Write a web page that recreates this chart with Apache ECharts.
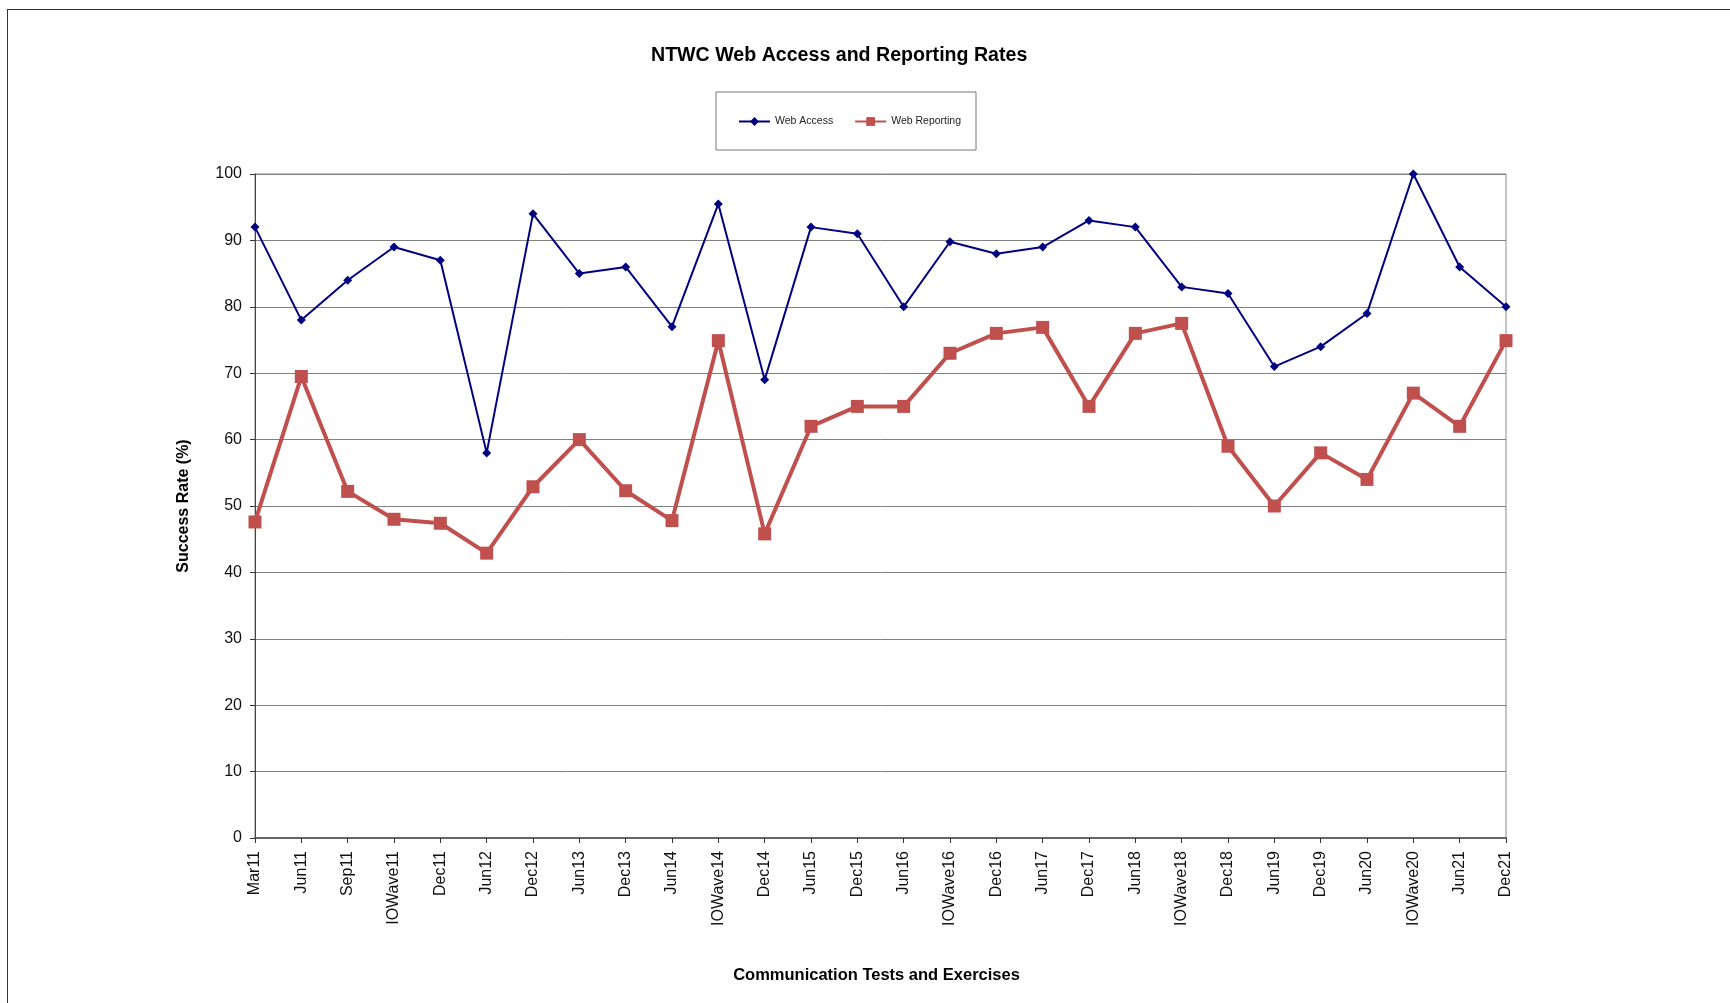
<!DOCTYPE html>
<html>
<head>
<meta charset="utf-8">
<script src="https://cdn.jsdelivr.net/npm/echarts@6/dist/echarts.min.js"></script>
<style>
html,body{margin:0;padding:0;background:#fff;}
#frame{position:absolute;left:7px;top:9px;width:1723px;height:994px;border-top:1px solid #333;border-left:1px solid #333;box-sizing:border-box;}
#chart{position:absolute;left:0;top:0;width:1730px;height:1003px;}
</style>
</head>
<body>
<div id="frame"></div>
<div id="chart"></div>
<script>
const categories = ['Mar11','Jun11','Sep11','IOWave11','Dec11','Jun12','Dec12','Jun13','Dec13','Jun14','IOWave14','Dec14','Jun15','Dec15','Jun16','IOWave16','Dec16','Jun17','Dec17','Jun18','IOWave18','Dec18','Jun19','Dec19','Jun20','IOWave20','Jun21','Dec21'];
const webAccess = [92,78,84,89,87,58,94,85,86,77,95.5,69,92,91,80,89.8,88,89,93,92,83,82,71,74,79,100,86,80];
const webReporting = [47.6,69.5,52.2,48,47.4,42.9,52.9,60,52.3,47.8,74.9,45.8,62,65,65,73,76,76.9,65,76,77.5,59,50,58,54,67,62,74.9];
const yTicks = {min:0, max:100, interval:10};

const font = 'Liberation Sans, Arial, sans-serif';
const chart = echarts.init(document.getElementById('chart'), null, {renderer:'canvas'});
chart.setOption({
  animation:false,
  backgroundColor:'transparent',
  title:{
    text:'NTWC Web Access and Reporting Rates',
    left:646, top:41,
    textStyle:{fontFamily:font, fontSize:19.6, fontWeight:'bold', color:'#000'}
  },
  legend:{
    left:716, top:92,
    padding:[24,15,23,22],
    borderColor:'#777', borderWidth:1,
    itemWidth:31, itemHeight:11, itemGap:21,
    textStyle:{fontFamily:font, fontSize:10.5, color:'#222'},
    data:['Web Access','Web Reporting']
  },
  grid:{left:255, right:224, top:174, bottom:165, show:true, borderColor:'#888', borderWidth:1},
  xAxis:{
    type:'category', data:categories, boundaryGap:false,
    name:'Communication Tests and Exercises', nameLocation:'middle', nameGap:129,
    nameTextStyle:{fontFamily:font, fontSize:16.5, fontWeight:'bold', color:'#000', padding:[0,8,0,0]},
    axisLine:{lineStyle:{color:'#666', width:2}},
    axisTick:{show:true, length:5, alignWithLabel:true, lineStyle:{color:'#333'}},
    axisLabel:{rotate:90, margin:13, interval:0, fontFamily:font, fontSize:16, color:'#111'},
    splitLine:{show:false}
  },
  yAxis:{
    type:'value', min:yTicks.min, max:yTicks.max, interval:yTicks.interval,
    name:'Success Rate (%)', nameLocation:'middle', nameGap:63, nameRotate:90,
    nameTextStyle:{fontFamily:font, fontSize:16, fontWeight:'bold', color:'#000'},
    axisLine:{show:true, lineStyle:{color:'#444', width:1}},
    axisTick:{show:true, length:5, lineStyle:{color:'#333'}},
    axisLabel:{margin:13, fontFamily:font, fontSize:16, color:'#111'},
    splitLine:{show:true, lineStyle:{color:'#808080', width:1}}
  },
  series:[
    {name:'Web Access', type:'line', data:webAccess, color:'#000080',
     symbol:'diamond', symbolSize:9, showSymbol:true,
     lineStyle:{width:2, color:'#000080'}, itemStyle:{color:'#000080'}},
    {name:'Web Reporting', type:'line', data:webReporting, color:'#C0504D',
     symbol:'rect', symbolSize:13, showSymbol:true,
     lineStyle:{width:4, color:'#C0504D'}, itemStyle:{color:'#C0504D'}}
  ]
});
</script>
</body>
</html>
